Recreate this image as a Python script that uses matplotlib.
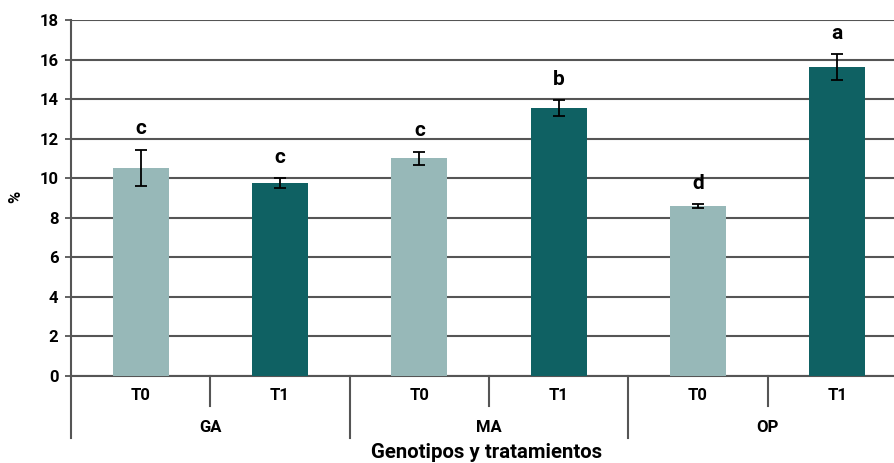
import matplotlib.pyplot as plt
import matplotlib.transforms as mtransforms

plt.rcParams['font.family'] = ['Roboto', 'DejaVu Sans']
plt.rcParams['font.weight'] = 'bold'

genotypes = ['GA', 'MA', 'OP']
treatments = ['T0', 'T1']
values = [10.52, 9.76, 11.02, 13.55, 8.60, 15.62]
errors = [0.93, 0.24, 0.33, 0.38, 0.10, 0.66]
letters = ['c', 'c', 'c', 'b', 'd', 'a']
colors = ['#97b8b8', '#0f6163']

W, H = 895, 463
fig = plt.figure(figsize=(W / 100, H / 100), dpi=100)
# axes runs past the right edge of the figure on purpose
ax = fig.add_axes([71 / W, (H - 376) / H, (907 - 71) / W, 356 / H])

x = list(range(len(values)))
bar_colors = [colors[i % 2] for i in x]
ax.bar(x, values, width=0.40, color=bar_colors, zorder=3)
ax.errorbar(x, values, yerr=errors, fmt='none', ecolor='black',
            elinewidth=1.3, capsize=4, capthick=1.3, zorder=4)

for xi, v, e, lab in zip(x, values, errors, letters):
    ax.annotate(lab, (xi, v + e), xytext=(0, 8), textcoords='offset points',
                ha='center', va='bottom', fontsize=15, fontweight='bold')

ax.set_xlim(-0.5, len(values) - 0.5)
ax.set_ylim(0, 18)
ax.set_yticks(range(0, 19, 2))
ax.tick_params(axis='y', labelsize=12, length=4, width=1.3, color='#555555', pad=5)
for t in ax.get_yticklabels():
    t.set_fontweight('bold')
ax.set_xticks([])
ax.grid(axis='y', color='#555555', linewidth=1.5, zorder=0)
for side in ['top', 'right']:
    ax.spines[side].set_visible(False)
ax.spines['left'].set_color('#555555')
ax.spines['left'].set_linewidth(1.5)
ax.spines['bottom'].set_color('#555555')
ax.spines['bottom'].set_linewidth(1.5)

# two-level category axis
trans = mtransforms.blended_transform_factory(ax.transData, ax.transAxes)
ax_px = 356
for i, lab in enumerate(treatments * len(genotypes)):
    ax.text(i, -20 / ax_px, lab, transform=trans, ha='center', va='center',
            fontsize=12, fontweight='bold')
for g, name in enumerate(genotypes):
    ax.text(2 * g + 0.5, -52 / ax_px, name, transform=trans, ha='center',
            va='center', fontsize=12, fontweight='bold')
    # short divider between T0 and T1
    ax.plot([2 * g + 0.5] * 2, [0, -30 / ax_px], transform=trans,
            color='#555555', lw=1.5, clip_on=False)
for b in range(len(genotypes) + 1):
    ax.plot([2 * b - 0.5] * 2, [0, -62 / ax_px], transform=trans,
            color='#555555', lw=1.5, clip_on=False)

fig.text(487 / W, 1 - 452 / H, 'Genotipos y tratamientos', ha='center',
         va='center', fontsize=14.7, fontweight='bold')
fig.text(16 / W, 1 - 197 / H, '%', ha='center', va='center', rotation=90,
         fontsize=12, fontweight='bold')

fig.savefig('out.png', dpi=100)
